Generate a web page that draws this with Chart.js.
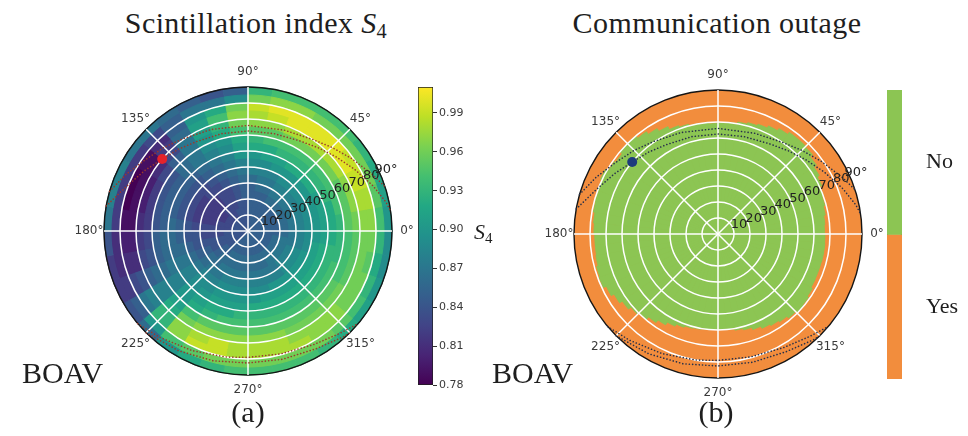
<!DOCTYPE html>
<html>
<head>
<meta charset="utf-8">
<script src="https://cdn.jsdelivr.net/npm/chart.js@4.4.1/dist/chart.umd.min.js"></script>
<style>
  html, body { margin: 0; padding: 0; background: #fff; width: 968px; height: 436px; overflow: hidden; }
  body { position: relative; }
  canvas { position: absolute; }
  .txt { position: absolute; font-family: "Liberation Serif", "Times New Roman", serif; color: #1e1e1e; white-space: nowrap; line-height: 1; }
  .ctr { transform: translateX(-50%); }
  .txt sub { font-size: 0.68em; vertical-align: -0.25em; line-height: 0; }
</style>
</head>
<body>
<canvas id="s4Polar" width="400" height="348" style="left:48px;top:57px"></canvas>
<canvas id="outagePolar" width="400" height="348" style="left:518px;top:60px"></canvas>
<canvas id="s4Bar" width="70" height="320" style="left:410px;top:77px"></canvas>
<canvas id="outageBar" width="89" height="310" style="left:879px;top:80px"></canvas>

<div class="txt ctr" style="left:256px;top:8px;font-size:30px;letter-spacing:0.4px">Scintillation index <i>S</i><sub>4</sub></div>
<div class="txt ctr" style="left:717px;top:8px;font-size:30px;letter-spacing:0.4px">Communication outage</div>
<div class="txt" style="left:474px;top:221px;font-size:22px"><i>S</i><sub>4</sub></div>
<div class="txt" style="left:22px;top:358px;font-size:30px">BOAV</div>
<div class="txt" style="left:492px;top:358px;font-size:30px">BOAV</div>
<div class="txt ctr" style="left:248px;top:397px;font-size:30px">(a)</div>
<div class="txt ctr" style="left:716px;top:397px;font-size:30px">(b)</div>

<script>
// ---------------- data ----------------
// azimuth tick marks (degrees, counter-clockwise from east)
const angleTickValues = [0, 45, 90, 135, 180, 225, 270, 315];
const angleTickLabels = ['0°', '45°', '90°', '135°', '180°', '225°', '270°', '315°'];
// zenith rings
const zenithTickValues = [10, 20, 30, 40, 50, 60, 70, 80, 90];
const zenithTickLabels = ['10', '20', '30', '40', '50', '60', '70', '80', '90°'];
// outer edges of the 5° zenith bins of the S4 map
const zenithBinEdges = [5, 10, 15, 20, 25, 30, 35, 40, 45, 50, 55, 60, 65, 70, 75, 80, 85, 90];

// colour bar
const s4Range = [0.78, 1.01];
const s4Ticks = [0.78, 0.81, 0.84, 0.87, 0.90, 0.93, 0.96, 0.99];

// S4 per 10° azimuth sector (row 0 = 0–10°, row 1 = 10–20°, ...), columns = zenith bins 0–5° ... 85–90°
const s4Grid = [
  [0.85,0.85,0.85,0.85,0.86,0.87,0.88,0.89,0.90,0.91,0.92,0.93,0.95,0.96,0.97,0.97,0.94,0.90],
  [0.85,0.85,0.85,0.85,0.86,0.87,0.88,0.89,0.90,0.91,0.92,0.94,0.95,0.97,0.98,0.98,0.95,0.91],
  [0.85,0.85,0.85,0.85,0.86,0.87,0.88,0.89,0.90,0.91,0.93,0.94,0.95,0.97,0.99,0.99,0.96,0.92],
  [0.85,0.85,0.85,0.85,0.86,0.87,0.88,0.89,0.90,0.92,0.93,0.94,0.96,0.98,1.00,0.99,0.96,0.93],
  [0.85,0.85,0.85,0.85,0.86,0.87,0.88,0.89,0.90,0.92,0.93,0.94,0.96,0.98,1.00,1.00,0.96,0.94],
  [0.85,0.85,0.85,0.85,0.86,0.87,0.88,0.89,0.90,0.92,0.93,0.94,0.96,0.98,1.00,1.00,0.96,0.94],
  [0.85,0.85,0.85,0.85,0.85,0.86,0.87,0.88,0.90,0.91,0.93,0.94,0.96,0.98,1.00,1.00,0.97,0.94],
  [0.84,0.85,0.85,0.85,0.85,0.86,0.87,0.88,0.89,0.91,0.92,0.94,0.95,0.97,0.99,1.00,0.97,0.94],
  [0.84,0.84,0.85,0.85,0.85,0.85,0.86,0.88,0.89,0.90,0.92,0.93,0.95,0.97,0.98,0.99,0.96,0.93],
  [0.84,0.84,0.84,0.84,0.85,0.85,0.86,0.87,0.88,0.90,0.91,0.92,0.94,0.96,0.97,0.96,0.89,0.85],
  [0.84,0.84,0.84,0.84,0.84,0.84,0.85,0.86,0.87,0.88,0.89,0.90,0.92,0.93,0.94,0.92,0.87,0.84],
  [0.84,0.84,0.84,0.83,0.83,0.83,0.84,0.85,0.86,0.87,0.88,0.89,0.90,0.91,0.91,0.90,0.87,0.85],
  [0.84,0.84,0.83,0.83,0.83,0.83,0.83,0.84,0.85,0.86,0.87,0.87,0.87,0.87,0.86,0.85,0.85,0.86],
  [0.84,0.84,0.83,0.83,0.82,0.82,0.83,0.83,0.84,0.85,0.86,0.86,0.85,0.83,0.82,0.81,0.83,0.87],
  [0.84,0.84,0.83,0.82,0.82,0.82,0.82,0.83,0.84,0.85,0.85,0.84,0.83,0.81,0.79,0.79,0.82,0.87],
  [0.84,0.84,0.83,0.82,0.82,0.82,0.82,0.83,0.84,0.85,0.85,0.84,0.82,0.80,0.79,0.78,0.82,0.88],
  [0.84,0.84,0.83,0.83,0.82,0.82,0.82,0.83,0.84,0.85,0.85,0.84,0.82,0.80,0.79,0.78,0.82,0.88],
  [0.84,0.84,0.83,0.83,0.83,0.83,0.83,0.84,0.85,0.86,0.85,0.84,0.82,0.81,0.79,0.79,0.82,0.87],
  [0.84,0.84,0.84,0.83,0.83,0.83,0.84,0.84,0.85,0.86,0.86,0.85,0.83,0.82,0.80,0.80,0.81,0.84],
  [0.84,0.84,0.84,0.84,0.84,0.84,0.84,0.85,0.86,0.86,0.86,0.85,0.84,0.83,0.81,0.81,0.81,0.82],
  [0.84,0.84,0.84,0.84,0.84,0.85,0.85,0.86,0.87,0.87,0.87,0.86,0.86,0.85,0.84,0.83,0.82,0.82],
  [0.84,0.84,0.84,0.85,0.85,0.86,0.86,0.87,0.88,0.88,0.88,0.88,0.88,0.88,0.88,0.87,0.85,0.84],
  [0.84,0.85,0.85,0.85,0.86,0.86,0.87,0.88,0.89,0.89,0.90,0.90,0.91,0.92,0.93,0.93,0.90,0.86],
  [0.85,0.85,0.85,0.86,0.86,0.87,0.87,0.88,0.89,0.90,0.91,0.92,0.94,0.96,0.97,0.97,0.94,0.90],
  [0.85,0.85,0.85,0.86,0.86,0.87,0.88,0.89,0.90,0.91,0.92,0.93,0.95,0.97,0.98,0.99,0.95,0.92],
  [0.85,0.85,0.85,0.86,0.86,0.87,0.88,0.89,0.90,0.91,0.92,0.94,0.95,0.97,0.99,0.99,0.96,0.93],
  [0.85,0.85,0.85,0.86,0.86,0.87,0.88,0.89,0.90,0.91,0.93,0.94,0.95,0.97,0.98,0.98,0.96,0.94],
  [0.85,0.85,0.85,0.86,0.86,0.87,0.88,0.89,0.90,0.92,0.93,0.94,0.95,0.97,0.98,0.98,0.96,0.94],
  [0.85,0.85,0.85,0.86,0.86,0.87,0.88,0.89,0.91,0.92,0.93,0.94,0.95,0.97,0.98,0.98,0.96,0.94],
  [0.85,0.85,0.85,0.86,0.86,0.87,0.88,0.90,0.91,0.92,0.93,0.94,0.95,0.96,0.97,0.98,0.96,0.94],
  [0.85,0.85,0.85,0.86,0.87,0.87,0.88,0.90,0.91,0.92,0.93,0.94,0.95,0.96,0.97,0.97,0.96,0.93],
  [0.85,0.85,0.85,0.86,0.87,0.88,0.89,0.90,0.91,0.92,0.93,0.94,0.95,0.96,0.97,0.97,0.95,0.92],
  [0.85,0.85,0.85,0.86,0.87,0.88,0.89,0.90,0.91,0.92,0.93,0.94,0.95,0.96,0.96,0.96,0.94,0.91],
  [0.85,0.85,0.85,0.86,0.87,0.88,0.89,0.90,0.91,0.92,0.93,0.94,0.94,0.95,0.96,0.96,0.93,0.90],
  [0.85,0.85,0.85,0.86,0.87,0.87,0.88,0.89,0.91,0.92,0.93,0.93,0.94,0.95,0.96,0.95,0.92,0.89],
  [0.85,0.85,0.85,0.85,0.86,0.87,0.88,0.89,0.90,0.91,0.92,0.93,0.94,0.95,0.96,0.96,0.93,0.89]
];

// zenith angle where the link is lost, per 5° azimuth sector (0–5°, 5–10°, ...)
const outageStartZenith = [
  66.5, 67, 68, 69, 70, 71.5, 73, 75, 77, 77.5, 77.5, 76,
  74.5, 73, 72, 71, 70, 69.5, 69, 69.5, 70, 71, 72, 74,
  76, 78, 80, 80, 78, 79, 81, 80, 79.5, 79, 78, 77.5,
  77, 77, 77.5, 78.5, 79, 77, 75, 73, 71, 69.5, 67.5, 65.5,
  63.5, 62, 61, 60.5, 60, 59.5, 59.5, 60, 61, 62, 63.5, 65,
  66, 67, 68.5, 69.5, 69, 68, 67, 66.8, 66.8, 67, 67, 66.8
];
const outageClasses = ['Yes', 'No'];

// satellite passes (azimuth / zenith, degrees)
const passNorthInnerAz  = [170, 160, 150, 140, 130, 120, 105, 90, 75, 60, 50, 40, 30, 20, 12, 8];
const passNorthInnerZen = [90, 81, 75, 70, 67, 64.5, 63, 62.5, 63, 65, 68, 72, 77, 83, 88, 90];
const passNorthOuterAz  = [164, 155, 145, 135, 125, 110, 90, 70, 55, 45, 35, 25, 18];
const passNorthOuterZen = [90, 84, 78, 74, 70.5, 67.5, 66, 67, 70, 74, 79, 85, 90];
const passSouthInnerAz  = [220, 230, 245, 260, 270, 285, 300, 312, 320];
const passSouthInnerZen = [90, 86.5, 82.5, 80, 79, 79.5, 82, 86, 90];
const passSouthOuterAz  = [225, 240, 255, 270, 285, 300, 312, 315];
const passSouthOuterZen = [90, 86.5, 84, 82.5, 83, 85, 89, 90];
// current satellite position
const satAz = 140;
const satZen = 70;

// ---------------- styling helpers ----------------
const VIRIDIS = ['#440154', '#482475', '#414487', '#355f8d', '#2a788e', '#21918c',
                 '#22a884', '#44bf70', '#7ad151', '#bddf26', '#fde725'];
const GREEN = '#8cc553';
const ORANGE = '#f28d3d';

function hexToRgb(h) {
  return [parseInt(h.slice(1, 3), 16), parseInt(h.slice(3, 5), 16), parseInt(h.slice(5, 7), 16)];
}
const VIRIDIS_RGB = VIRIDIS.map(hexToRgb);
function s4Color(v) {
  let t = (v - s4Range[0]) / (s4Range[1] - s4Range[0]);
  t = Math.max(0, Math.min(1, t)) * (VIRIDIS_RGB.length - 1);
  const i = Math.min(Math.floor(t), VIRIDIS_RGB.length - 2);
  const f = t - i;
  const a = VIRIDIS_RGB[i], b = VIRIDIS_RGB[i + 1];
  const c = a.map((x, k) => Math.round(x + (b[k] - x) * f));
  return 'rgb(' + c.join(',') + ')';
}

// labels for the radial scale, ordered clockwise from east (the way the arcs are laid out)
const clockwiseLabels = angleTickValues
  .map((v, i) => ({ v, l: angleTickLabels[i] }))
  .sort((a, b) => ((360 - a.v) % 360) - ((360 - b.v) % 360))
  .map(o => o.l);

function polarScales() {
  return {
    r: {
      type: 'radialLinear',
      min: 0, max: 90,
      startAngle: 90,
      ticks: { display: false, stepSize: 10, z: 1 },
      grid: {
        z: 1,
        circular: true,
        color: c => (c.tick && c.tick.value === 90) ? '#151515' : '#ffffff',
        lineWidth: c => (c.tick && c.tick.value === 90) ? 1.4 : 1.5
      },
      angleLines: { display: true, color: '#ffffff', lineWidth: 1.5 },
      pointLabels: { display: false }
    }
  };
}

// tracks, marker and tick texts drawn on top of the polar scale
function polarDecor(trackColor, markerColor) {
  return {
    id: 'polarDecor',
    afterDraw(chart) {
      const s = chart.scales.r;
      const ctx = chart.ctx;
      const pos = (az, zen, extra) => {
        const d = s.getDistanceFromCenterForValue(zen) + (extra || 0);
        const a = az * Math.PI / 180;
        return { x: s.xCenter + d * Math.cos(a), y: s.yCenter - d * Math.sin(a) };
      };
      ctx.save();
      // satellite passes
      ctx.strokeStyle = trackColor;
      ctx.lineWidth = 1.6;
      ctx.lineCap = 'round';
      ctx.setLineDash([0.1, 3.2]);
      [[passNorthInnerAz, passNorthInnerZen], [passNorthOuterAz, passNorthOuterZen],
       [passSouthInnerAz, passSouthInnerZen], [passSouthOuterAz, passSouthOuterZen]].forEach(([az, zen]) => {
        ctx.beginPath();
        az.forEach((a, i) => {
          const p = pos(a, zen[i]);
          if (i === 0) ctx.moveTo(p.x, p.y); else ctx.lineTo(p.x, p.y);
        });
        ctx.stroke();
      });
      ctx.setLineDash([]);
      // satellite marker
      const m = pos(satAz, satZen);
      ctx.fillStyle = markerColor;
      ctx.beginPath();
      ctx.arc(m.x, m.y, 5, 0, Math.PI * 2);
      ctx.fill();
      // azimuth labels
      ctx.font = '12px "DejaVu Sans"';
      ctx.fillStyle = '#3a3a3a';
      ctx.textAlign = 'center';
      ctx.textBaseline = 'middle';
      angleTickValues.forEach((v, i) => {
        const p = pos(v, 90, 15);
        ctx.fillText(angleTickLabels[i], p.x, p.y);
      });
      // zenith labels along 24°
      ctx.font = '13px "DejaVu Sans"';
      ctx.fillStyle = '#222222';
      zenithTickValues.forEach((v, i) => {
        const p = pos(24, v, 7);
        ctx.fillText(zenithTickLabels[i], p.x, p.y);
      });
      ctx.restore();
    }
  };
}

const commonOpts = {
  responsive: false,
  animation: false,
  events: [],
  plugins: { legend: { display: false }, tooltip: { enabled: false } }
};

// ---------------- S4 map ----------------
const nSectors = s4Grid.length;
const s4Datasets = zenithBinEdges.map((edge, k) => {
  // arcs run clockwise from east, i.e. from 360° downwards
  const colors = [];
  const radii = [];
  for (let i = 0; i < nSectors; i++) {
    const sector = nSectors - 1 - i;
    colors.push(s4Color(s4Grid[sector][k]));
    radii.push(edge);
  }
  return { data: radii, backgroundColor: colors, borderColor: colors, borderWidth: 1 };
});

new Chart(document.getElementById('s4Polar'), {
  type: 'polarArea',
  data: { labels: clockwiseLabels, datasets: s4Datasets },
  options: Object.assign({}, commonOpts, {
    layout: { padding: { left: 56, right: 56, top: 30, bottom: 30 } },
    scales: polarScales()
  }),
  plugins: [polarDecor('#9a3a2c', '#e5232b')]
});

// ---------------- outage map ----------------
const nOut = outageStartZenith.length;
const outRadii = [];
for (let i = 0; i < nOut; i++) outRadii.push(outageStartZenith[nOut - 1 - i]);

new Chart(document.getElementById('outagePolar'), {
  type: 'polarArea',
  data: {
    labels: clockwiseLabels,
    datasets: [
      { label: outageClasses[1], data: outRadii, backgroundColor: GREEN, borderColor: GREEN, borderWidth: 1 },
      { label: outageClasses[0], data: [90], backgroundColor: ORANGE, borderColor: ORANGE, borderWidth: 0 }
    ]
  },
  options: Object.assign({}, commonOpts, {
    layout: { padding: { left: 56, right: 56, top: 30, bottom: 30 } },
    scales: polarScales()
  }),
  plugins: [polarDecor('#27304a', '#1d3b7c')]
});

// ---------------- S4 colour bar ----------------
new Chart(document.getElementById('s4Bar'), {
  type: 'bar',
  data: {
    labels: ['S4'],
    datasets: [{
      data: [s4Range],
      backgroundColor: c => {
        const a = c.chart.chartArea;
        if (!a) return VIRIDIS[5];
        const g = c.chart.ctx.createLinearGradient(0, a.bottom, 0, a.top);
        VIRIDIS.forEach((h, k) => g.addColorStop(k / (VIRIDIS.length - 1), h));
        return g;
      },
      borderColor: '#1e1e1e', borderWidth: 1, borderSkipped: false,
      barPercentage: 1, categoryPercentage: 1
    }]
  },
  options: Object.assign({}, commonOpts, {
    layout: { padding: { left: 8, right: 0, top: 10, bottom: 12 } },
    scales: {
      x: { display: false },
      y: {
        position: 'right',
        min: s4Range[0], max: s4Range[1],
        afterBuildTicks: sc => { sc.ticks = s4Ticks.map(v => ({ value: v })); },
        afterFit: sc => { sc.width = 47; sc.paddingTop = 0; sc.paddingBottom = 0; },
        ticks: { callback: v => v.toFixed(2), font: { family: 'DejaVu Sans', size: 11 }, color: '#3a3a3a', padding: 2 },
        grid: { display: true, drawOnChartArea: false, drawTicks: true, tickLength: 4, tickColor: '#333', tickWidth: 1 },
        border: { display: false }
      }
    }
  })
});

// ---------------- outage colour bar ----------------
new Chart(document.getElementById('outageBar'), {
  type: 'bar',
  data: {
    labels: ['outage'],
    datasets: [
      { data: [[1, 2]], backgroundColor: GREEN, borderWidth: 0, grouped: false, barPercentage: 1, categoryPercentage: 1 },
      { data: [[0, 1]], backgroundColor: ORANGE, borderWidth: 0, grouped: false, barPercentage: 1, categoryPercentage: 1 },
      { data: [[0, 2]], backgroundColor: 'rgba(0,0,0,0)', borderColor: '#1e1e1e', borderWidth: 1, borderSkipped: false, grouped: false, barPercentage: 1, categoryPercentage: 1 }
    ]
  },
  options: Object.assign({}, commonOpts, {
    layout: { padding: { left: 8, right: 0, top: 10, bottom: 11 } },
    scales: {
      x: { display: false },
      y: {
        position: 'right',
        min: 0, max: 2,
        afterBuildTicks: sc => { sc.ticks = [{ value: 0.5 }, { value: 1.5 }]; },
        afterFit: sc => { sc.width = 66; sc.paddingTop = 0; sc.paddingBottom = 0; },
        ticks: { callback: v => outageClasses[Math.floor(v)], font: { family: 'Liberation Serif', size: 22 }, color: '#1e1e1e', padding: 16 },
        grid: { display: false },
        border: { display: false }
      }
    }
  })
});
</script>
</body>
</html>
